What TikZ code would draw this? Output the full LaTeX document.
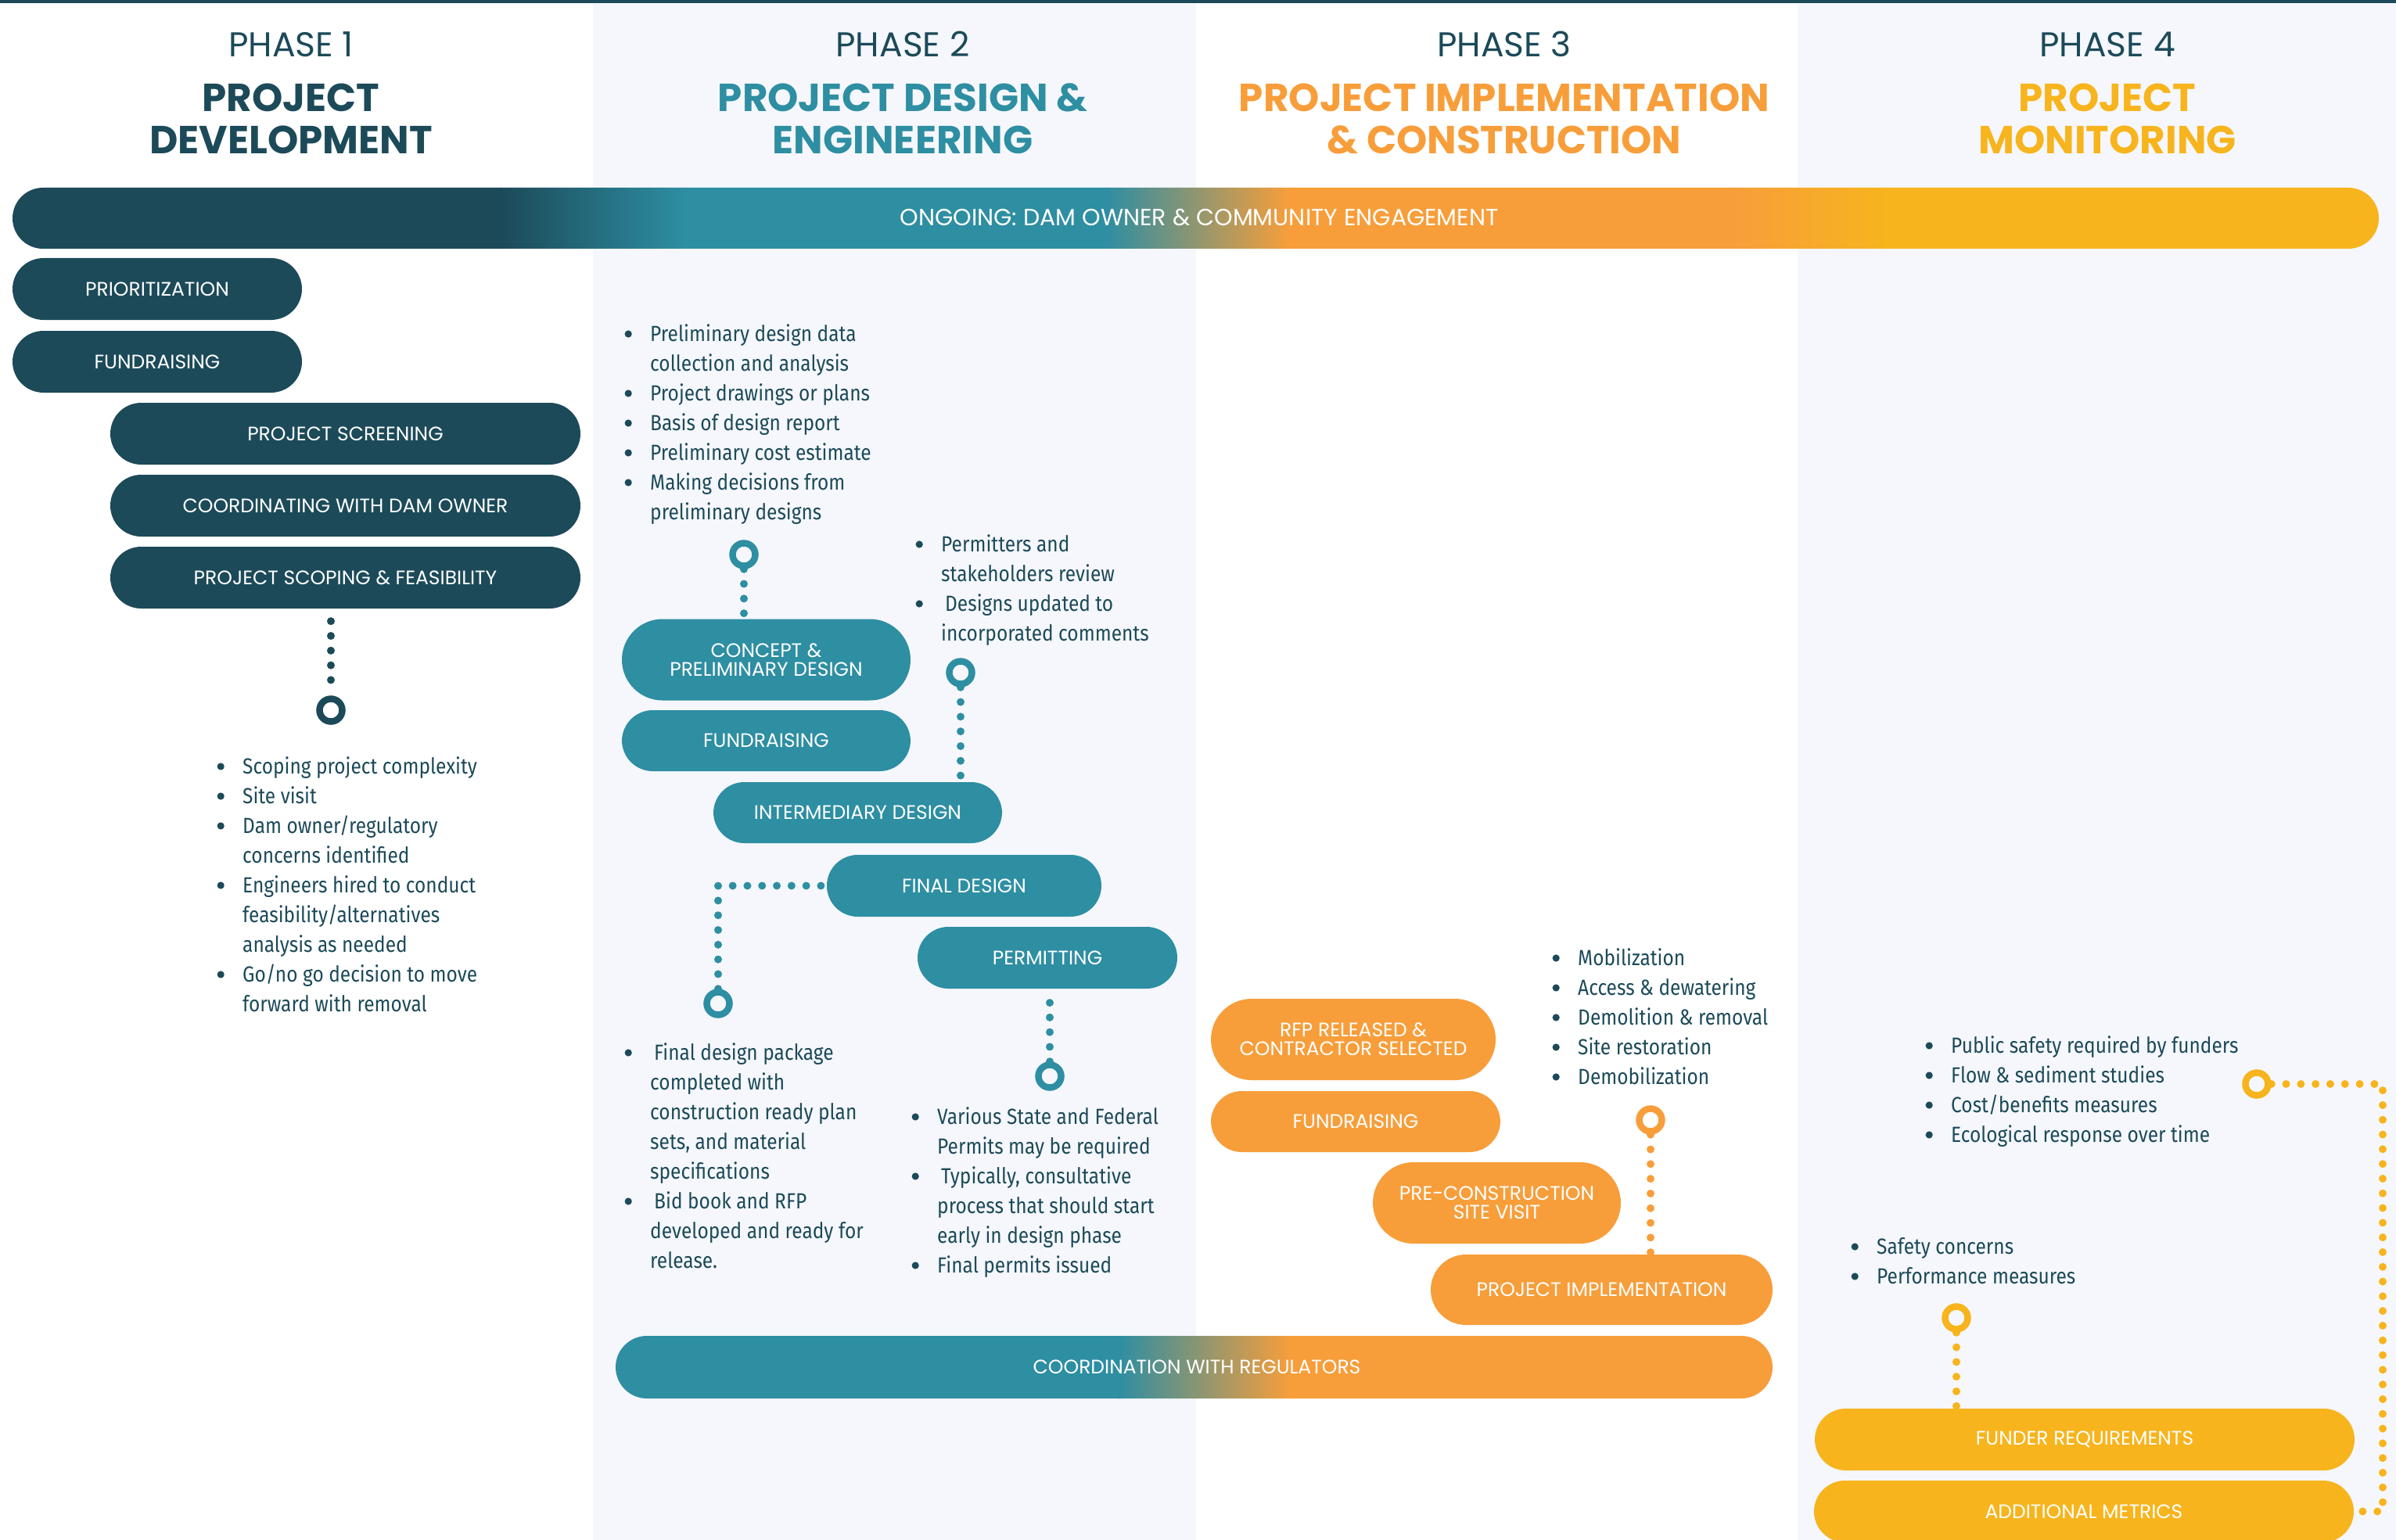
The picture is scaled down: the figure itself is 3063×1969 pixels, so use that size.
\documentclass[tikz,border=0pt]{standalone}
\usepackage{fontspec}
\setmainfont{Fira Sans}[FakeStretch=0.875]
\newfontfamily\pop{Poppins}
\usetikzlibrary{calc}
\definecolor{cdark}{HTML}{1C4A59}
\definecolor{cteal}{HTML}{2E8EA2}
\definecolor{corange}{HTML}{F79E3B}
\definecolor{cyellow}{HTML}{F7B41D}
\definecolor{cbg}{HTML}{F5F7FC}
\pgfdeclarelayer{bg}
\pgfdeclarelayer{lines}
\pgfsetlayers{bg,lines,main}
\newcommand\bdot{\tikz[baseline=0pt]\fill[cdark] (0pt,9pt) circle (4.6pt);}
\newcommand\bitem[1]{\hbox{\makebox[0pt]{\bdot}\hspace{28pt}#1}}
\newcommand\citem[1]{\hbox{\hspace{28pt}#1}}
\newcommand\blist[1]{\vtop{\baselineskip=38pt\lineskiplimit=-100pt\relax #1}}
\tikzset{
  pill/.style={inner sep=0pt, text=white, align=center, font=\pop\fontsize{25}{24}\selectfont,
    minimum height=79pt, rounded corners=39.5pt},
  tallpill/.style={minimum height=104pt, rounded corners=52pt},
  ring/.style={circle, draw=#1, line width=8.5pt, minimum size=29pt, inner sep=0pt},
  dots/.style={draw=#1, line width=10pt, line cap=round, dash pattern=on 0pt off 18.8pt},
  phasef/.style={font=\pop\fontsize{44}{48}\selectfont, text=cdark, anchor=base, inner sep=0pt},
  titlef/.style={font=\pop\bfseries\fontsize{50}{54}\selectfont, text=#1, anchor=base, inner sep=0pt},
  listf/.style={font=\fontsize{28}{38}\selectfont, text=cdark, anchor=base west, inner sep=0pt},
  barf/.style={font=\pop\fontsize{#1}{30}\selectfont, text=white, inner sep=0pt}
}
\begin{document}
\begin{tikzpicture}[x=1pt,y=-1pt]
\useasboundingbox (0,0) rectangle (3063,1969);
\begin{pgfonlayer}{bg}
\fill[white] (0,0) rectangle (3063,1969);
\fill[cbg] (758,0) rectangle (1529,1969);
\fill[cbg] (2298,0) rectangle (3063,1969);
\fill[cdark] (0,0) rectangle (3063,4);
% ongoing bar
\begin{scope}
\clip[rounded corners=39pt] (16,240) rectangle (3041,318);
\fill[cdark] (10,235) rectangle (642,325);
\shade[left color=cdark, right color=cteal] (640,235) rectangle (876,325);
\fill[cteal] (874,235) rectangle (1416,325);
\shade[left color=cteal, right color=corange] (1414,235) rectangle (1648,325);
\fill[corange] (1646,235) rectangle (2216,325);
\shade[left color=corange, right color=cyellow] (2214,235) rectangle (2412,325);
\fill[cyellow] (2410,235) rectangle (3050,325);
\end{scope}
% regulators bar
\begin{scope}
\clip[rounded corners=40pt] (787,1708) rectangle (2266,1788);
\fill[cteal] (780,1700) rectangle (1432,1795);
\shade[left color=cteal, right color=corange] (1430,1700) rectangle (1650,1795);
\fill[corange] (1648,1700) rectangle (2270,1795);
\end{scope}
\end{pgfonlayer}

% headers
\node[phasef] (ph1) at (372,73) {PHASE 1};
\node[phasef] (ph2) at (1154,73) {PHASE 2};
\node[phasef] (ph3) at (1923,73) {PHASE 3};
\node[phasef] (ph4) at (2694,73) {PHASE 4};
\node[titlef=cdark] (t1a) at (372,143) {PROJECT};
\node[titlef=cdark] (t1b) at (372,197) {DEVELOPMENT};
\node[titlef=cteal] (t2a) at (1154,143) {PROJECT DESIGN \&};
\node[titlef=cteal] (t2b) at (1154,197) {ENGINEERING};
\node[titlef=corange] (t3a) at (1923,143) {PROJECT IMPLEMENTATION};
\node[titlef=corange] (t3b) at (1923,197) {\& CONSTRUCTION};
\node[titlef=cyellow] (t4a) at (2694,143) {PROJECT};
\node[titlef=cyellow] (t4b) at (2694,197) {MONITORING};

\node[barf=30] (ongoing) at (1533,278) {ONGOING: DAM OWNER \& COMMUNITY ENGAGEMENT};
\node[barf=25] (regul) at (1530,1748) {COORDINATION WITH REGULATORS};

% phase 1 pills
\node[pill, fill=cdark, minimum width=370pt] (prio) at (201,369.5) {PRIORITIZATION};
\node[pill, fill=cdark, minimum width=370pt] (fund1) at (201,462.5) {FUNDRAISING};
\node[pill, fill=cdark, minimum width=601pt] (screen) at (441.5,554.5) {PROJECT SCREENING};
\node[pill, fill=cdark, minimum width=601pt] (coord) at (441.5,646.5) {COORDINATING WITH DAM OWNER};
\node[pill, fill=cdark, minimum width=601pt] (scoping) at (441.5,738.5) {PROJECT SCOPING \& FEASIBILITY};

% phase 2 pills
\node[pill, tallpill, fill=cteal, minimum width=369pt] (concept) at (979.5,843.5) {CONCEPT \&\\PRELIMINARY DESIGN};
\node[pill, fill=cteal, minimum width=369pt, minimum height=78pt] (fund2) at (979.5,947) {FUNDRAISING};
\node[pill, fill=cteal, minimum width=369pt, minimum height=78pt] (inter) at (1096.5,1039) {INTERMEDIARY DESIGN};
\node[pill, fill=cteal, minimum width=351pt] (final) at (1232.5,1132.5) {FINAL DESIGN};
\node[pill, fill=cteal, minimum width=332pt] (permit) at (1339,1224.5) {PERMITTING};

% phase 3 pills
\node[pill, tallpill, fill=corange, minimum width=364pt] (rfp) at (1730,1329) {RFP RELEASED \&\\CONTRACTOR SELECTED};
\node[pill, fill=corange, minimum width=370pt, minimum height=78pt] (fund3) at (1733,1434) {FUNDRAISING};
\node[pill, tallpill, fill=corange, minimum width=317pt] (precon) at (1913.5,1538) {PRE-CONSTRUCTION\\SITE VISIT};
\node[pill, fill=corange, minimum width=437pt, minimum height=90pt, rounded corners=45pt] (impl) at (2047.5,1649) {PROJECT IMPLEMENTATION};

% phase 4 pills
\node[pill, fill=cyellow, minimum width=690pt] (funder) at (2665,1840.5) {FUNDER REQUIREMENTS};
\node[pill, fill=cyellow, minimum width=690pt] (addl) at (2664,1932.5) {ADDITIONAL METRICS};

% rings
\node[ring=cdark] (r1) at (423,908) {};
\node[ring=cteal] (r2) at (951,709) {};
\node[ring=cteal] (r3) at (1228,860) {};
\node[ring=cteal] (r4) at (918,1283) {};
\node[ring=cteal] (r5) at (1342,1376) {};
\node[ring=corange] (r6) at (2110,1432) {};
\node[ring=cyellow] (r7) at (2885,1386) {};
\node[ring=cyellow] (r8) at (2501,1685) {};

% lists
\node[listf] (l1) at (282,989) {\blist{%
\bitem{Scoping project complexity}
\bitem{Site visit}
\bitem{Dam owner/regulatory}
\citem{concerns identified}
\bitem{Engineers hired to conduct}
\citem{feasibility/alternatives}
\citem{analysis as needed}
\bitem{Go/no go decision to move}
\citem{forward with removal}}};
\node[listf] (l2) at (803,436) {\blist{%
\bitem{Preliminary design data}
\citem{collection and analysis}
\bitem{Project drawings or plans}
\bitem{Basis of design report}
\bitem{Preliminary cost estimate}
\bitem{Making decisions from}
\citem{preliminary designs}}};
\node[listf] (l3) at (1175,705) {\blist{%
\bitem{Permitters and}
\citem{stakeholders review}
\bitem{\hspace{5pt}Designs updated to}
\citem{incorporated comments}}};
\node[listf] (l4) at (803,1355) {\blist{%
\bitem{\hspace{5pt}Final design package}
\citem{completed with}
\citem{construction ready plan}
\citem{sets, and material}
\citem{specifications}
\bitem{\hspace{5pt}Bid book and RFP}
\citem{developed and ready for}
\citem{release.}}};
\node[listf] (l5) at (1170,1437) {\blist{%
\bitem{Various State and Federal}
\citem{Permits may be required}
\bitem{\hspace{5pt}Typically, consultative}
\citem{process that should start}
\citem{early in design phase}
\bitem{Final permits issued}}};
\node[listf] (l6) at (1989,1234) {\blist{%
\bitem{Mobilization}
\bitem{Access \& dewatering}
\bitem{Demolition \& removal}
\bitem{Site restoration}
\bitem{Demobilization}}};
\node[listf] (l7) at (2466,1346) {\blist{%
\bitem{Public safety required by funders}
\bitem{Flow \& sediment studies}
\bitem{Cost/benefits measures}
\bitem{Ecological response over time}}};
\node[listf] (l8) at (2371,1603) {\blist{%
\bitem{Safety concerns}
\bitem{Performance measures}}};

\coordinate (c4) at (r4 |- final.west);
\coordinate (c7a) at (3046,1386);
\coordinate (c7b) at (3046,1932.5);

\begin{pgfonlayer}{lines}
\draw[dots=cdark, dash phase=2.8pt, shorten >=8pt] (r1 |- scoping.south) -- (r1);
\draw[dots=cteal] (r2) -- (r2 |- concept.north);
\draw[dots=cteal] (r3) -- (r3 |- inter.north);
\draw[dots=cteal] (r4) -- (c4) -- (final.west);
\draw[dots=cteal] (r5) -- (r5 |- permit.south);
\draw[dots=corange] (r6) -- (r6 |- impl.north);
\draw[dots=cyellow] (r7) -- (c7a) -- (c7b) -- (addl.east);
\draw[dots=cyellow] (r8) -- (r8 |- funder.north);
\end{pgfonlayer}
\end{tikzpicture}
\end{document}
